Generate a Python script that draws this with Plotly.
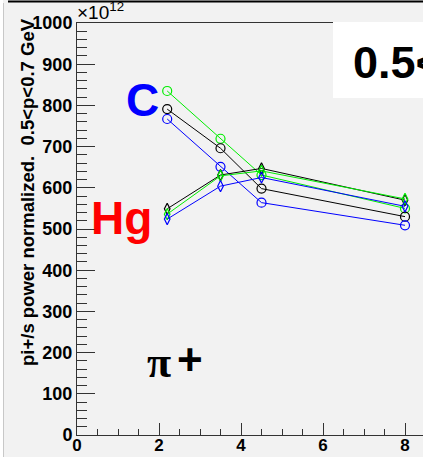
import plotly.graph_objects as go

# ---- data ----
p_mid = [2.2, 3.5, 4.5, 8.0]
c_green = [835, 719, 631, 550]
c_black = [791, 696, 598, 530]
c_blue = [767, 651, 564, 509]
hg_black = [549, 631, 647, 570]
hg_green = [536, 629, 641, 573]
hg_blue = [524, 604, 625, 555]

W, H = 423, 457
L, R, T, B = 77, 423, 23, 435  # plot area in pixels


def px(x):
    return (x - L) / (R - L)


def py(y):
    return (B - y) / (B - T)


FONT = "Liberation Sans"
BG = "#f2f2f2"

fig = go.Figure()

series = [
    (c_green, "#00ee00", "circle-open", 9),
    (c_black, "#000000", "circle-open", 9),
    (c_blue, "#0000ff", "circle-open", 9),
    (hg_black, "#000000", "diamond-tall-open", 8),
    (hg_green, "#00ee00", "diamond-tall-open", 8),
    (hg_blue, "#0000ff", "diamond-tall-open", 8),
]
for vals, col, sym, sz in series:
    fig.add_trace(go.Scatter(
        x=p_mid, y=vals, mode="lines+markers",
        line=dict(color=col, width=1),
        marker=dict(symbol=sym, size=sz, color=col, line=dict(color=col, width=1.2)),
        showlegend=False, cliponaxis=False,
    ))

axcol = "#333333"
fig.update_xaxes(
    range=[0, (R - L) / 41.0], showgrid=False, zeroline=False, automargin=False,
    showline=True, linecolor=axcol, linewidth=1, mirror=True,
    ticks="inside", ticklen=12, tickwidth=1, tickcolor=axcol,
    tickvals=[0, 2, 4, 6, 8], ticktext=["0", "2", "4", "6", "8"],
    minor=dict(dtick=0.5, ticks="inside", ticklen=6, tickwidth=1, tickcolor=axcol),
    tickfont=dict(family=FONT, size=17, color="black", weight="bold"),
    ticklabelstandoff=-5,
)
fig.update_yaxes(
    range=[0, 1000], showgrid=False, zeroline=False, automargin=False,
    showline=True, linecolor=axcol, linewidth=1, mirror=False,
    ticks="inside", ticklen=18, tickwidth=1, tickcolor=axcol,
    tickvals=[0, 100, 200, 300, 400, 500, 600, 700, 800, 900, 1000],
    ticktext=["0", "100", "200", "300", "400", "500", "600", "700", "800", "900", "1000"],
    minor=dict(dtick=20, ticks="inside", ticklen=10, tickwidth=1, tickcolor=axcol),
    tickfont=dict(family=FONT, size=18, color="black", weight="bold"),
)

shapes = [
    # white box for the momentum label (covers top frame line)
    dict(type="rect", xref="paper", yref="paper", x0=px(333), x1=px(430), y0=py(98), y1=py(22),
         fillcolor="white", line=dict(width=0), layer="above"),
    # outer canvas edges
    dict(type="rect", xref="paper", yref="paper", x0=px(-2), x1=px(3), y0=py(460), y1=py(-2),
         fillcolor="white", line=dict(width=0), layer="above"),
    dict(type="line", xref="paper", yref="paper", x0=px(3.5), x1=px(3.5), y0=py(460), y1=py(3),
         line=dict(color="#c8c8c8", width=1), layer="above"),
    dict(type="line", xref="paper", yref="paper", x0=px(8), x1=px(430), y0=py(1.5), y1=py(1.5),
         line=dict(color="black", width=2), layer="above"),
]

annotations = [
    dict(text="0.5&lt;p&lt;0.7 GeV", xref="paper", yref="paper", x=px(351), y=py(63),
         xanchor="left", yanchor="middle", showarrow=False,
         font=dict(family=FONT, size=45, color="black", weight="bold")),
    dict(text="pi+/s power normalized.  0.5&lt;p&lt;0.7 GeV", xref="paper", yref="paper",
         x=px(28), y=py(16), xanchor="center", yanchor="top", textangle=-90, showarrow=False,
         font=dict(family=FONT, size=18.5, color="black", weight="bold")),
    dict(text="×10<sup>12</sup>", xref="paper", yref="paper", x=px(75), y=py(25),
         xanchor="left", yanchor="bottom", showarrow=False,
         font=dict(family=FONT, size=19, color="black")),
    dict(text="C", xref="paper", yref="paper", x=px(124), y=py(100),
         xanchor="left", yanchor="middle", showarrow=False,
         font=dict(family=FONT, size=46, color="#0000ff", weight="bold")),
    dict(text="Hg", xref="paper", yref="paper", x=px(89), y=py(218),
         xanchor="left", yanchor="middle", showarrow=False,
         font=dict(family=FONT, size=46, color="#ff0000", weight="bold")),
    dict(text="π", xref="paper", yref="paper", x=px(145), y=py(362),
         xanchor="left", yanchor="middle", showarrow=False,
         font=dict(family="Liberation Serif", size=44, color="black", weight="bold")),
    dict(text="+", xref="paper", yref="paper", x=px(175), y=py(359),
         xanchor="left", yanchor="middle", showarrow=False,
         font=dict(family=FONT, size=44, color="black", weight="bold")),
]

fig.update_layout(
    width=W, height=H,
    margin=dict(l=L, r=W - R, t=T, b=H - B, pad=0, autoexpand=False),
    paper_bgcolor=BG, plot_bgcolor=BG,
    shapes=shapes, annotations=annotations,
    font=dict(family=FONT),
)

fig.write_html("out.html")
